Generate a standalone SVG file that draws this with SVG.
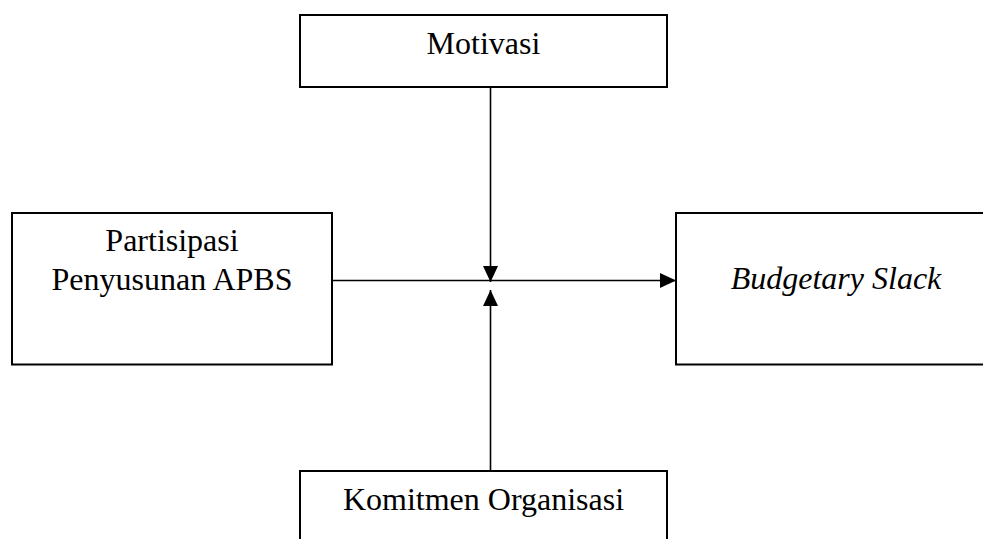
<svg xmlns="http://www.w3.org/2000/svg" width="983" height="539" viewBox="0 0 983 539">
<style>
.box{fill:#fff;stroke:#000;stroke-width:2}
.t{font-family:"Liberation Serif","Times New Roman",serif;font-size:32px;fill:#000;text-anchor:middle}
.i{font-style:italic}
.ln{stroke:#000;stroke-width:1.6;fill:none}
</style>
<defs>
<marker id="ah" viewBox="0 0 16 15" refX="16" refY="7.5" markerWidth="16" markerHeight="15" markerUnits="userSpaceOnUse" orient="auto">
<path d="M0,0 L16,7.5 L0,15 Z" fill="#000"/>
</marker>
</defs>
<rect width="983" height="539" fill="#fff"/>
<g id="connectors">
<line class="ln" x1="332" y1="280.5" x2="676" y2="280.5" marker-end="url(#ah)"/>
<line class="ln" x1="490.5" y1="87" x2="490.5" y2="282" marker-end="url(#ah)"/>
<line class="ln" x1="490.5" y1="471" x2="490.5" y2="290" marker-end="url(#ah)"/>
</g>
<g id="motivasi">
<rect class="box" x="300" y="15" width="367" height="72"/>
<text class="t" x="483.5" y="54">Motivasi</text>
</g>
<g id="partisipasi">
<rect class="box" x="12" y="213" width="320" height="151.5"/>
<text class="t" x="172" y="251">Partisipasi</text>
<text class="t" x="172" y="290">Penyusunan APBS</text>
</g>
<g id="budgetary">
<rect class="box" x="676" y="213" width="320" height="151.5"/>
<text class="t i" x="836" y="289">Budgetary Slack</text>
</g>
<g id="komitmen">
<rect class="box" x="300" y="471" width="367" height="80"/>
<text class="t" x="483.5" y="510">Komitmen Organisasi</text>
</g>
</svg>
